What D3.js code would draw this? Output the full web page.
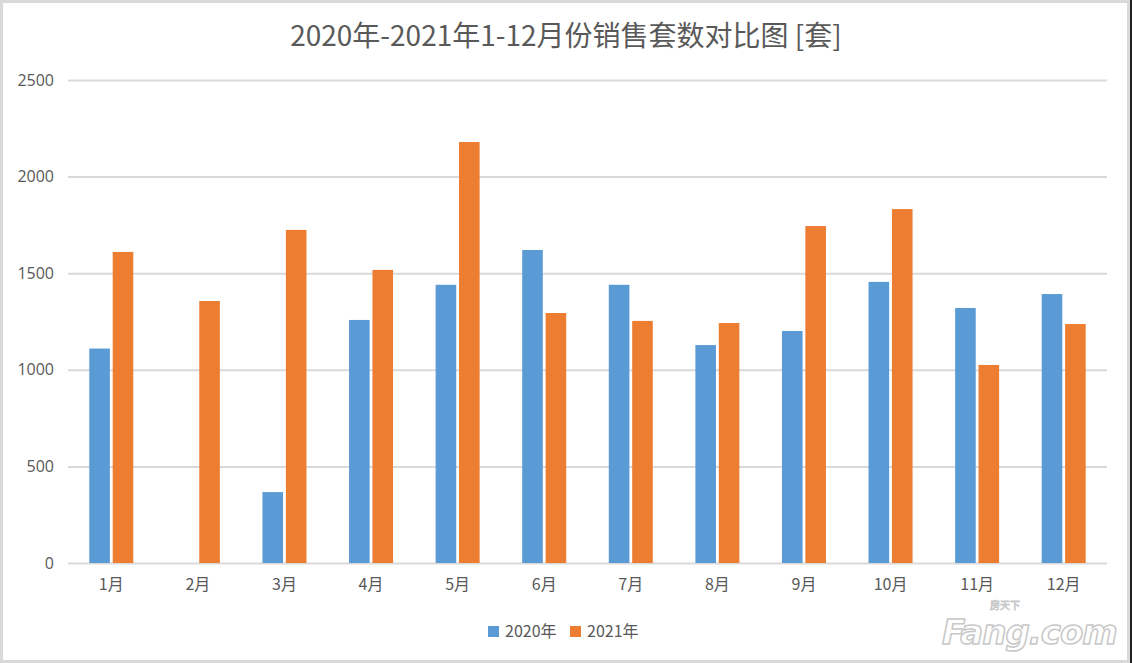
<!DOCTYPE html>
<html>
<head>
<meta charset="utf-8">
<script src="https://cdn.jsdelivr.net/npm/d3@7"></script>
<style>
  body { margin: 0; background: #fff; }
  text { font-family: "Noto Sans CJK SC", "Noto Sans", sans-serif; }
</style>
</head>
<body>
<svg id="chart" width="1132" height="663"></svg>
<script>
// chart data
var MONTHS = ["1月", "2月", "3月", "4月", "5月", "6月", "7月", "8月", "9月", "10月", "11月", "12月"];
var SERIES = ["2020年", "2021年"];
var SALES_2020 = [1110, 0, 367, 1258, 1440, 1620, 1440, 1128, 1201, 1455, 1320, 1392];
var SALES_2021 = [1610, 1356, 1724, 1517, 2179, 1294, 1253, 1242, 1744, 1832, 1025, 1237];
var Y_TICKS = [0, 500, 1000, 1500, 2000, 2500];

var SERIES_COLORS = ["#5b9bd5", "#ed7d31"];
var GRID_COLOR = "#d9d9d9";
var LABEL_COLOR = "#595959";

var PLOT_LEFT = 68, PLOT_RIGHT = 1107, PLOT_TOP = 80, PLOT_BOTTOM = 563;
var GROUP_WIDTH = 44;

var svg = d3.select("#chart");

// outer frame
svg.append("rect")
    .attr("x", 1.5).attr("y", 1.5)
    .attr("width", 1127).attr("height", 660)
    .attr("fill", "#fff")
    .attr("stroke", GRID_COLOR)
    .attr("stroke-width", 3);
svg.append("line")
    .attr("x1", 1131).attr("y1", 0).attr("x2", 1131).attr("y2", 663)
    .attr("stroke", "#222").attr("stroke-width", 2);

var xScale = d3.scaleBand()
    .domain(MONTHS)
    .range([PLOT_LEFT, PLOT_RIGHT])
    .padding(0);

var xInner = d3.scaleBand()
    .domain(SERIES)
    .range([0, GROUP_WIDTH])
    .paddingInner(0.12);

var yScale = d3.scaleLinear()
    .domain([0, 2500])
    .range([PLOT_BOTTOM, PLOT_TOP]);

// title
svg.append("text")
    .attr("x", 566)
    .attr("y", 46)
    .attr("text-anchor", "middle")
    .style("font-size", "28px")
    .style("fill", LABEL_COLOR)
    .text("2020年-2021年1-12月份销售套数对比图 [套]");

// gridlines + y labels
var yAxis = d3.axisLeft(yScale)
    .tickValues(Y_TICKS)
    .tickFormat(d3.format("d"))
    .tickSize(-(PLOT_RIGHT - PLOT_LEFT))
    .tickPadding(14);

var gy = svg.append("g")
    .attr("transform", "translate(" + PLOT_LEFT + ",0)")
    .call(yAxis);
gy.select(".domain").remove();
gy.selectAll(".tick line")
    .attr("stroke", GRID_COLOR)
    .attr("stroke-width", 2);
gy.selectAll(".tick text")
    .style("font-size", "16px")
    .style("fill", LABEL_COLOR)
    .style("font-family", "'Open Sans', 'Noto Sans', sans-serif");

// x labels
var xAxis = d3.axisBottom(xScale).tickSize(0).tickPadding(16);
var gx = svg.append("g")
    .attr("transform", "translate(0," + PLOT_BOTTOM + ")")
    .call(xAxis);
gx.select(".domain").remove();
gx.selectAll(".tick text")
    .style("font-size", "16px")
    .style("fill", LABEL_COLOR);

// bars
var rows = MONTHS.map(function (m, i) {
    return { month: m, values: [SALES_2020[i], SALES_2021[i]] };
});

var groups = svg.selectAll(".month-group")
    .data(rows)
    .enter()
    .append("g")
    .attr("class", "month-group")
    .attr("transform", d => "translate(" + (xScale(d.month) + (xScale.bandwidth() - GROUP_WIDTH) / 2) + ",0)");

groups.selectAll("rect")
    .data(d => d.values.map((v, k) => ({ series: SERIES[k], value: v, k: k })))
    .enter()
    .append("rect")
    .attr("x", d => xInner(d.series))
    .attr("y", d => yScale(d.value))
    .attr("width", xInner.bandwidth())
    .attr("height", d => PLOT_BOTTOM - yScale(d.value))
    .attr("fill", d => SERIES_COLORS[d.k]);

// legend
var legendItems = [
    { label: SERIES[0], color: SERIES_COLORS[0], x: 488 },
    { label: SERIES[1], color: SERIES_COLORS[1], x: 570 }
];
var legend = svg.selectAll(".legend-item")
    .data(legendItems)
    .enter()
    .append("g")
    .attr("class", "legend-item")
    .attr("transform", d => "translate(" + d.x + ",626)");
legend.append("rect")
    .attr("width", 11).attr("height", 11)
    .attr("fill", d => d.color);
legend.append("text")
    .attr("x", 17).attr("y", 11)
    .style("font-size", "16px")
    .style("fill", LABEL_COLOR)
    .text(d => d.label);

// watermark
var wm = svg.append("g").attr("transform", "translate(942,644)");
wm.append("text")
    .attr("x", 0).attr("y", 0)
    .style("font-family", "'DejaVu Sans', sans-serif")
    .style("font-size", "34px")
    .style("font-weight", "bold")
    .style("font-style", "italic")
    .style("fill", "#fff")
    .style("stroke", "#c8c8c8")
    .style("stroke-width", 1.5)
    .style("letter-spacing", "-1px")
    .text("Fang.com");
wm.append("text")
    .attr("x", 48).attr("y", -35)
    .style("font-size", "10px")
    .style("fill", "#fff")
    .style("stroke", "#c8c8c8")
    .style("stroke-width", 0.8)
    .text("房天下");
</script>
</body>
</html>
